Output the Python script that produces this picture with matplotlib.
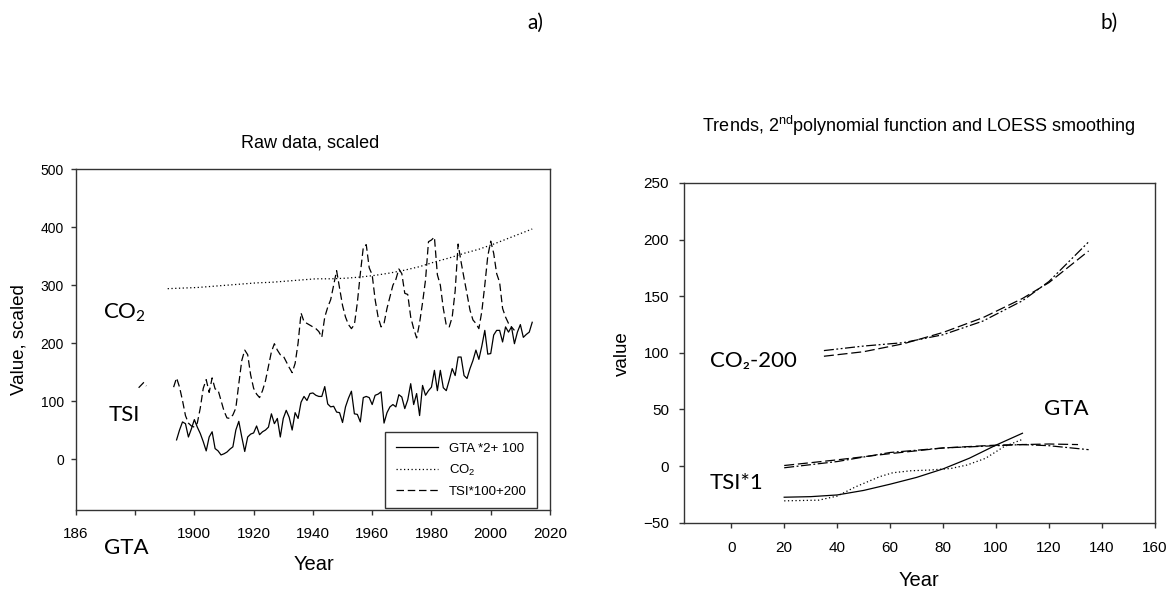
import numpy as np
import matplotlib
matplotlib.use("Agg")
import matplotlib.pyplot as plt

plt.rcParams['font.family'] = ['Liberation Sans', 'DejaVu Sans']
plt.rcParams['mathtext.default'] = 'regular'

# ---- panel a) raw data, scaled ----
gta_years = list(range(1894, 2015))
gta_vals = [33, 50, 64, 61, 38, 52, 68, 55, 44, 30,
            14, 38, 47, 18, 14, 7, 9, 12, 17, 21,
            50, 65, 38, 13, 38, 43, 45, 57, 42, 47,
            50, 55, 78, 61, 70, 38, 70, 84, 72, 50,
            80, 70, 98, 108, 101, 113, 114, 110, 108, 108,
            125, 95, 90, 91, 81, 80, 63, 90, 105, 117,
            78, 77, 64, 106, 108, 106, 94, 110, 112, 116,
            62, 80, 90, 94, 90, 111, 107, 87, 102, 130,
            94, 113, 75, 127, 110, 118, 124, 153, 118, 153,
            123, 118, 136, 156, 144, 176, 176, 144, 139, 156,
            170, 188, 172, 195, 222, 181, 182, 214, 222, 222,
            202, 228, 219, 228, 199, 219, 232, 210, 215, 219,
            236]

co2_years = [1891, 1896, 1901, 1906, 1911, 1916, 1921, 1926, 1931, 1936,
             1941, 1946, 1951, 1956, 1961, 1966, 1971, 1976, 1981, 1986,
             1991, 1996, 2001, 2006, 2011, 2014]
co2_vals = [294, 295, 296, 298, 300, 302, 304, 305, 307, 309,
            311, 311, 312, 314, 317, 321, 326, 332, 340, 347,
            355, 362, 371, 381, 391, 397]

tsi_years = list(range(1893, 2009))
tsi_vals = [124, 140, 124, 101, 75, 62, 57, 55, 62, 88,
            122, 137, 115, 140, 121, 119, 101, 83, 71, 70,
            76, 88, 130, 170, 188, 180, 145, 122, 112, 106,
            118, 135, 160, 185, 199, 188, 180, 178, 168, 158,
            149, 165, 200, 252, 237, 234, 231, 228, 225, 220,
            210, 245, 262, 275, 300, 325, 295, 265, 245, 232,
            225, 232, 270, 320, 365, 370, 330, 318, 275, 245,
            228, 234, 260, 280, 300, 310, 328, 320, 286, 284,
            245, 225, 209, 235, 270, 309, 375, 378, 383, 318,
            300, 260, 231, 228, 245, 290, 371, 340, 312, 285,
            257, 240, 234, 225, 255, 300, 350, 376, 355, 320,
            305, 260, 245, 234, 228, 222]

# stray bit of the dashed curve near 1882
stray_years = [1881.2, 1882.9, 1883.8]
stray_vals = [123, 132, 126]

a_xticks = [1860, 1880, 1900, 1920, 1940, 1960, 1980, 2000, 2020]
a_xlabels = ['186', '', '1900', '1920', '1940', '1960', '1980', '2000', '2020']
a_yticks = [0, 100, 200, 300, 400, 500]

# ---- panel b) trends ----
co2_poly_x = [35, 50, 65, 80, 95, 110, 120, 135]
co2_poly_y = [97, 101, 108, 118, 131, 148, 162, 190]
co2_loess_x = [35, 50, 65, 80, 95, 110, 120, 135]
co2_loess_y = [102, 106, 109, 116, 128, 146, 163, 198]

tsi_poly_x = [20, 40, 60, 80, 100, 120, 131]
tsi_poly_y = [0.5, 5.5, 11, 16, 18.5, 19.5, 19]
tsi_loess_x = [20, 40, 60, 80, 100, 110, 120, 135]
tsi_loess_y = [-1.5, 4, 12, 16, 18, 19, 18, 14.5]

gta_poly_x = [20, 30, 40, 50, 60, 70, 80, 90, 100, 110]
gta_poly_y = [-27.5, -27, -25.5, -21.5, -16, -10, -2.5, 7, 18.5, 29]
gta_loess_x = [20, 33, 40, 47, 56, 61, 68, 75, 83, 89, 96, 103, 110]
gta_loess_y = [-30.7, -30.1, -26.5, -18.3, -9.4, -5.9, -4.1, -3.5, -2.1, 0.9, 6.8, 17.1, 23.6]

b_xticks = [0, 20, 40, 60, 80, 100, 120, 140, 160]
b_yticks = [-50, 0, 50, 100, 150, 200, 250]

W, H = 1175, 590
fig = plt.figure(figsize=(W / 100, H / 100), dpi=100)


def px(x, y):
    return x / W, 1 - y / H


calibri = ['Lato', 'DejaVu Sans']

# left axes
ax1 = fig.add_axes([75.8 / W, 1 - 510 / H, (550 - 75.8) / W, (510 - 169.3) / H])
ax1.plot(gta_years, gta_vals, color='black', lw=0.9, label='GTA *2+ 100')
ax1.plot(co2_years, co2_vals, color='black', lw=0.9, linestyle=(0, (1, 2)), label='CO$_2$')
ax1.plot(tsi_years, tsi_vals, color='black', lw=0.9, linestyle=(0, (6, 3)), label='TSI*100+200')
ax1.plot(stray_years, stray_vals, color='black', lw=0.9, linestyle=(0, (6, 3)))
ax1.set_xlim(1860, 2020)
ax1.set_ylim(-88, 500)
ax1.set_xticks(a_xticks)
ax1.set_xticklabels(a_xlabels)
ax1.set_yticks(a_yticks)
leg = ax1.legend(loc='upper right', bbox_to_anchor=(0.9726, 0.229), borderaxespad=0,
                 fontsize=9.5, handlelength=3.2, frameon=True, fancybox=False,
                 edgecolor='black', borderpad=0.8, labelspacing=0.6)
leg.get_frame().set_linewidth(1)
ax1.tick_params(axis='y', labelsize=10, pad=5)
ax1.tick_params(axis='x', labelsize=11, pad=9)

# right axes
ax2 = fig.add_axes([683.6 / W, 1 - 522.7 / H, (1154.8 - 683.6) / W, (522.7 - 183) / H])
ax2.plot(co2_poly_x, co2_poly_y, color='black', lw=0.9, linestyle=(0, (8, 3)))
ax2.plot(co2_loess_x, co2_loess_y, color='black', lw=0.9, linestyle=(0, (8, 2, 1.5, 2, 1.5, 2)))
ax2.plot(tsi_poly_x, tsi_poly_y, color='black', lw=0.9, linestyle=(0, (8, 3)))
ax2.plot(tsi_loess_x, tsi_loess_y, color='black', lw=0.9, linestyle=(0, (8, 2, 1.5, 2)))
ax2.plot(gta_poly_x, gta_poly_y, color='black', lw=0.9)
ax2.plot(gta_loess_x, gta_loess_y, color='black', lw=0.9, linestyle=(0, (1, 2)))
ax2.set_xlim(-18, 160)
ax2.set_ylim(-50, 250)
ax2.set_xticks(b_xticks)
ax2.set_yticks(b_yticks)
ax2.tick_params(axis='y', labelsize=11, pad=7)
ax2.tick_params(axis='x', labelsize=11, pad=10)

for ax in (ax1, ax2):
    ax.tick_params(direction='out', length=3.5, width=1, color='#333333')
    for s in ax.spines.values():
        s.set_linewidth(1)
        s.set_color('#333333')

# titles and labels
fig.text(*px(310, 143), 'Raw data, scaled', ha='center', va='center', fontsize=13)
fig.text(*px(919, 126), 'Trends, 2$^{nd}$polynomial function and LOESS smoothing',
         ha='center', va='center', fontsize=13)
fig.text(*px(19, 340), 'Value, scaled', ha='center', va='center', rotation=90, fontsize=13.5)
fig.text(*px(622, 354), 'value', ha='center', va='center', rotation=90, fontsize=13.5)
fig.text(*px(314, 565), 'Year', ha='center', va='center', fontsize=14.5)
fig.text(*px(919, 580), 'Year', ha='center', va='center', fontsize=14.5)

# panel letters and series names
fig.text(*px(535, 23), 'a)', ha='center', va='center', fontsize=15, family=calibri)
fig.text(*px(1109, 23), 'b)', ha='center', va='center', fontsize=15, family=calibri)
fig.text(*px(103, 313), 'CO$_2$', ha='left', va='center', fontsize=16, family=calibri)
fig.text(*px(109, 415), 'TSI', ha='left', va='center', fontsize=16, family=calibri)
fig.text(*px(104, 548), 'GTA', ha='left', va='center', fontsize=16, family=calibri)
fig.text(*px(710, 361), 'CO₂-200', ha='left', va='center', fontsize=16, family=calibri)
fig.text(*px(1044, 409), 'GTA', ha='left', va='center', fontsize=16, family=calibri)
fig.text(*px(710, 483), 'TSI*1', ha='left', va='center', fontsize=16, family=calibri)

fig.savefig('out.png', dpi=100)
